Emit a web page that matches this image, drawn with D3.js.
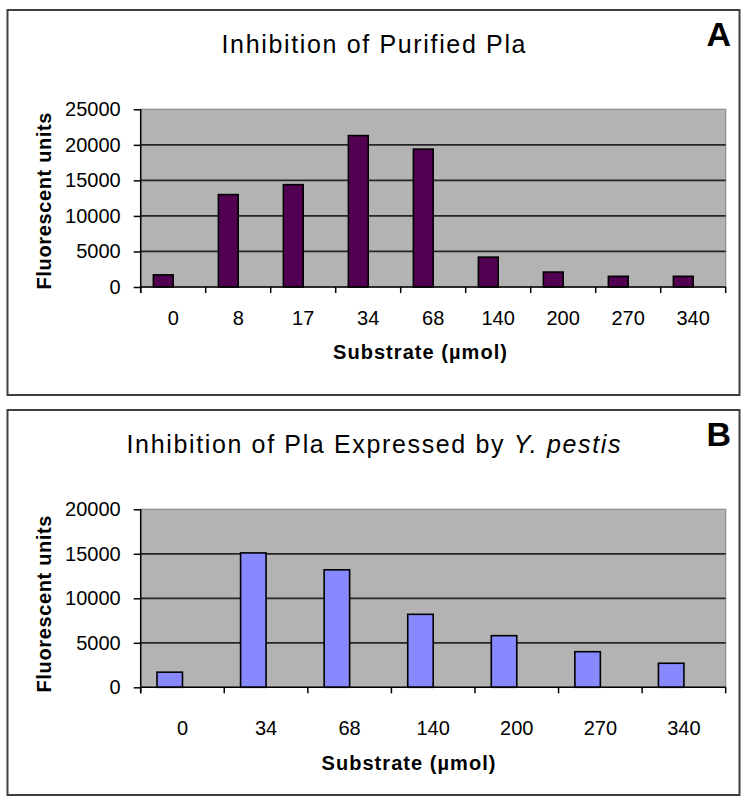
<!DOCTYPE html>
<html>
<head>
<meta charset="utf-8">
<script src="https://cdn.jsdelivr.net/npm/d3@7"></script>
<style>
  html, body { margin: 0; padding: 0; background: #ffffff; }
  svg { display: block; }
  text { font-family: "Liberation Sans", Arial, sans-serif; fill: #000; }
</style>
</head>
<body>
<svg id="chart" width="750" height="807"></svg>
<script>
// ---------- data ----------
const categoriesA = ["0", "8", "17", "34", "68", "140", "200", "270", "340"];
const valuesA = [1700, 13000, 14400, 21300, 19400, 4200, 2100, 1500, 1500];
const yTicksA = [0, 5000, 10000, 15000, 20000, 25000];

const categoriesB = ["0", "34", "68", "140", "200", "270", "340"];
const valuesB = [1700, 15100, 13200, 8200, 5800, 4000, 2700];
const yTicksB = [0, 5000, 10000, 15000, 20000];

// Excel-style clustered slot layout: the measured series and an empty slot
const seriesSlots = ["measured", "empty"];

const svg = d3.select("#chart");

function drawPanel(cfg) {
  const g = svg.append("g").attr("transform", `translate(0,${cfg.dy})`);

  // frame
  g.append("rect")
    .attr("x", 7.5).attr("y", 10).attr("width", 732).attr("height", 385)
    .attr("fill", "#fff").attr("stroke", "#404040").attr("stroke-width", 2);

  const left = 140.7, right = 725.7;
  const top = 109.3, bottom = cfg.bottom;

  const x0 = d3.scaleBand().domain(cfg.categories).range([left, right])
    .paddingInner(0).paddingOuter(0);
  const x1 = d3.scaleBand().domain(seriesSlots).range([0, x0.bandwidth()])
    .paddingInner(0).paddingOuter(0.64);
  const y = d3.scaleLinear().domain([0, cfg.yMax]).range([bottom, top]);

  // plot area
  g.append("rect")
    .attr("x", left).attr("y", top).attr("width", right - left).attr("height", bottom - top)
    .attr("fill", "#b3b3b3").attr("stroke", "#8c8c8c").attr("stroke-width", 1.2);

  // gridlines
  g.append("g").selectAll("line")
    .data(cfg.yTicks.filter(t => t > 0 && t < cfg.yMax))
    .join("line")
    .attr("x1", left).attr("x2", right)
    .attr("y1", d => y(d)).attr("y2", d => y(d))
    .attr("stroke", "#262626").attr("stroke-width", 1.8);

  // bars
  g.append("g").selectAll("rect")
    .data(cfg.categories.map((c, i) => ({ c, v: cfg.values[i] })))
    .join("rect")
    .attr("x", d => x0(d.c) + x1("measured"))
    .attr("width", x1.bandwidth())
    .attr("y", d => y(d.v))
    .attr("height", d => y(0) - y(d.v))
    .attr("fill", cfg.color)
    .attr("stroke", "#000").attr("stroke-width", 1.6);

  // y axis
  const yAxis = d3.axisLeft(y).tickValues(cfg.yTicks).tickSize(7).tickPadding(13)
    .tickFormat(d3.format("d"));
  const ya = g.append("g").attr("transform", `translate(${left},0)`).call(yAxis);
  ya.select(".domain").remove();
  ya.selectAll(".tick line").attr("stroke", "#000").attr("stroke-width", 1.5);
  ya.selectAll(".tick text")
    .attr("font-family", "Liberation Sans, Arial, sans-serif")
    .attr("font-size", 20).attr("fill", "#1a1a1a");
  g.append("line").attr("x1", left).attr("x2", left).attr("y1", top).attr("y2", bottom + 6)
    .attr("stroke", "#000").attr("stroke-width", 1.5);

  // x axis line and boundary ticks
  g.append("line").attr("x1", left).attr("x2", right).attr("y1", bottom).attr("y2", bottom)
    .attr("stroke", "#000").attr("stroke-width", 1.5);
  const bounds = cfg.categories.map(c => x0(c)).concat([right]);
  g.append("g").selectAll("line").data(bounds).join("line")
    .attr("x1", d => d).attr("x2", d => d)
    .attr("y1", bottom).attr("y2", bottom + 6)
    .attr("stroke", "#000").attr("stroke-width", 1.5);

  // x labels
  g.append("g").selectAll("text").data(cfg.categories).join("text")
    .attr("x", d => x0(d) + x0.bandwidth() / 2)
    .attr("y", cfg.xLabelY)
    .attr("text-anchor", "middle")
    .attr("font-size", 20).attr("fill", "#1a1a1a")
    .text(d => d);

  // x title
  g.append("text")
    .attr("x", cfg.xTitleX).attr("y", cfg.xTitleY)
    .attr("text-anchor", "middle")
    .attr("font-size", 20).attr("font-weight", "bold")
    .attr("textLength", 174).attr("lengthAdjust", "spacing")
    .text("Substrate (µmol)");

  // y title
  g.append("text")
    .attr("transform", `translate(51,${cfg.yTitleY}) rotate(-90)`)
    .attr("text-anchor", "middle")
    .attr("font-size", 20).attr("font-weight", "bold")
    .attr("textLength", 177).attr("lengthAdjust", "spacing")
    .text("Fluorescent units");

  // chart title
  const t = g.append("text")
    .attr("x", 373.5).attr("y", 53)
    .attr("text-anchor", "middle")
    .attr("font-size", 25)
    .attr("textLength", cfg.titleWidth).attr("lengthAdjust", "spacing");
  cfg.title.forEach(p => {
    t.append("tspan").attr("font-style", p.italic ? "italic" : "normal").text(p.text);
  });

  // panel letter
  g.append("text")
    .attr("x", 731).attr("y", 46)
    .attr("text-anchor", "end")
    .attr("font-size", 34).attr("font-weight", "bold")
    .text(cfg.letter);
}

drawPanel({
  dy: 0,
  categories: categoriesA, values: valuesA, yTicks: yTicksA, yMax: 25000,
  bottom: 287, color: "#520052",
  xLabelY: 325, xTitleX: 420, xTitleY: 359, yTitleY: 201,
  title: [{ text: "Inhibition of Purified Pla" }], titleWidth: 304,
  letter: "A"
});

drawPanel({
  dy: 400,
  categories: categoriesB, values: valuesB, yTicks: yTicksB, yMax: 20000,
  bottom: 287.3, color: "#8888ff",
  xLabelY: 335, xTitleX: 408.5, xTitleY: 369.5, yTitleY: 204,
  title: [{ text: "Inhibition of Pla Expressed by " }, { text: "Y. pestis", italic: true }],
  titleWidth: 494,
  letter: "B"
});
</script>
</body>
</html>
